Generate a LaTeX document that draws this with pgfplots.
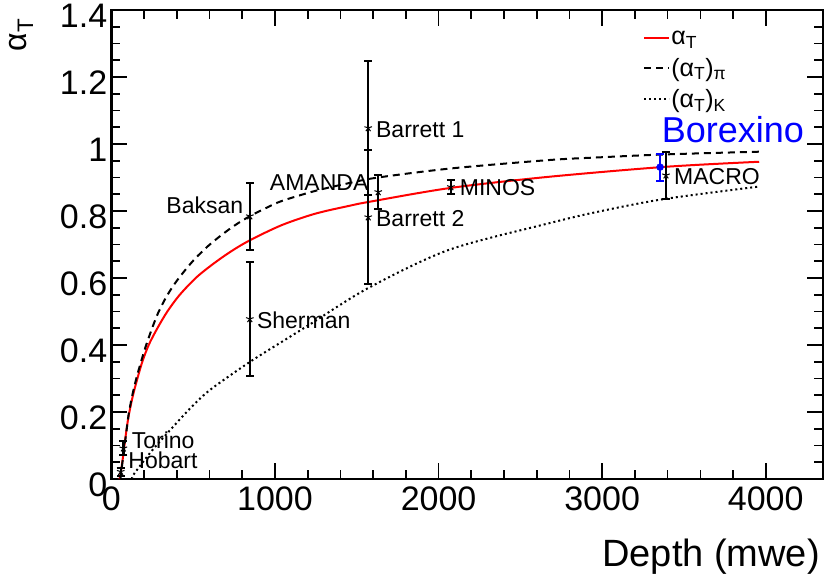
\documentclass[border=0pt]{standalone}
\usepackage{fontspec}
\setmainfont{Liberation Sans}
\usepackage{pgfplots}
\pgfplotsset{compat=1.18}
\newcommand{\lbl}{\fontsize{23}{23}\selectfont}
\begin{document}
\begin{tikzpicture}
\begin{axis}[
  at={(0,0)}, anchor=south west,
  scale only axis, width=711.6pt, height=469pt,
  xmin=0, xmax=4350, ymin=0, ymax=1.4,
  xtick={0,1000,2000,3000,4000},
  ytick={0,0.2,0.4,0.6,0.8,1,1.2,1.4},
  minor x tick num=4, minor y tick num=3,
  tick align=inside, xtick pos=both, ytick pos=both,
  major tick length=16pt, minor tick length=9pt,
  axis line style={line width=2.5pt},
  every tick/.style={black, line width=1.6pt},
  tick label style={font=\fontsize{34}{34}\selectfont},
  /pgf/number format/assume math mode=true,
  /pgf/number format/1000 sep={},
  xticklabel style={inner sep=0pt, yshift=-8pt},
  yticklabel style={inner sep=0pt, xshift=-4pt, yshift=-6pt},
  clip=false,
  legend style={at={(0.743,0.962)}, anchor=north west, draw=none, fill=none,
    font=\fontsize{25}{27}\selectfont, row sep=10pt, nodes={inner sep=1pt}},
  legend cell align=left,
  legend image code/.code={\draw[#1] (0pt,0pt) -- (25pt,0pt);},
]
% alpha_T
\addplot[red, line width=2pt, smooth, tension=0.5] coordinates {
(50,0) (63,0.037) (89,0.135) (106,0.19) (132,0.25) (159,0.3) (189,0.35)
(228,0.4) (281,0.45) (342,0.5) (418,0.55) (520,0.602) (622,0.642) (730,0.679)
(848,0.713) (1042,0.758) (1246,0.792) (1450,0.815) (1583,0.828) (2075,0.869)
(2672,0.902) (3390,0.932) (3960,0.947)};
\addlegendentry{α\textsubscript{T}}
% (alpha_T)_pi
\addplot[black, line width=2pt, dash pattern=on 7pt off 5pt, smooth, tension=0.5] coordinates {
(55,0) (70,0.06) (90,0.135) (106,0.195) (130,0.255) (155,0.305) (180,0.348)
(208,0.393) (245,0.445) (285,0.495) (335,0.543) (387,0.583) (450,0.623)
(512,0.658) (590,0.695) (675,0.729) (760,0.759) (848,0.785) (950,0.81)
(1042,0.83) (1246,0.86) (1450,0.883) (1630,0.90) (2075,0.927)
(2672,0.952) (2976,0.96) (3390,0.969) (3960,0.977)};
\addlegendentry{(α\textsubscript{T})\textsubscript{π}}
% (alpha_T)_K
\addplot[black, line width=2pt, dash pattern=on 2pt off 3pt, smooth, tension=0.5] coordinates {
(130,0) (134,0.012) (240,0.08) (359,0.146) (480,0.21) (603,0.266) (848,0.35)
(1060,0.415) (1215,0.462) (1570,0.57) (2063,0.684) (2672,0.763) (2976,0.798)
(3382,0.836) (3960,0.873)};
\addlegendentry{(α\textsubscript{T})\textsubscript{K}}
% measurements
\addplot[black, only marks, mark=star, mark size=4pt, line width=1pt,
  error bars/.cd, y dir=both, y explicit,
  error bar style={line width=2.4pt, black},
  error mark options={rotate=90, line width=2pt, mark size=4pt, black}]
  table[x=x, y=y, y error=e] {
x     y      e
57    0.022  0.012
73    0.092  0.02
846   0.785  0.10
846   0.478  0.17
1570  1.048  0.20
1570  0.782  0.20
1631  0.857  0.05
2075  0.872  0.022
3390  0.907  0.07
};
\addplot[blue, only marks, mark=*, mark size=3.5pt,
  error bars/.cd, y dir=both, y explicit,
  error bar style={line width=2.4pt, blue},
  error mark options={rotate=90, line width=2pt, mark size=4pt, blue}]
  coordinates {(3354,0.931) +- (0,0.04)};
% labels
\node[anchor=west, inner sep=0, font=\lbl] at (axis cs:124,0.116) {Torino};
\node[anchor=west, inner sep=0, font=\lbl] at (axis cs:103,0.057) {Hobart};
\node[anchor=east, inner sep=0, font=\lbl] at (axis cs:807,0.818) {Baksan};
\node[anchor=west, inner sep=0, font=\lbl] at (axis cs:889,0.473) {Sherman};
\node[anchor=west, inner sep=0, font=\lbl] at (axis cs:1617,1.043) {Barrett 1};
\node[anchor=west, inner sep=0, font=\lbl] at (axis cs:1617,0.778) {Barrett 2};
\node[anchor=east, inner sep=0, font=\lbl] at (axis cs:1572,0.886) {AMANDA};
\node[anchor=west, inner sep=0, font=\lbl] at (axis cs:2129,0.869) {MINOS};
\node[anchor=west, inner sep=0, font=\lbl] at (axis cs:3439,0.902) {MACRO};
\node[anchor=west, inner sep=0, text=blue, font=\fontsize{36}{36}\selectfont] at (axis cs:3364,1.042) {Borexino};
% axis titles
\node[anchor=base east, inner sep=0, font=\fontsize{38}{38}\selectfont] at (rel axis cs:0.9958,-0.1876) {Depth (mwe)};
\node[rotate=90, inner sep=0, font=\fontsize{32}{32}\selectfont] at (rel axis cs:-0.127,0.947) {α\textsubscript{T}};
\end{axis}
\pgfresetboundingbox
\path[use as bounding box] (-111.4pt,-97pt) rectangle (718.6pt,479pt);
\end{tikzpicture}
\end{document}
